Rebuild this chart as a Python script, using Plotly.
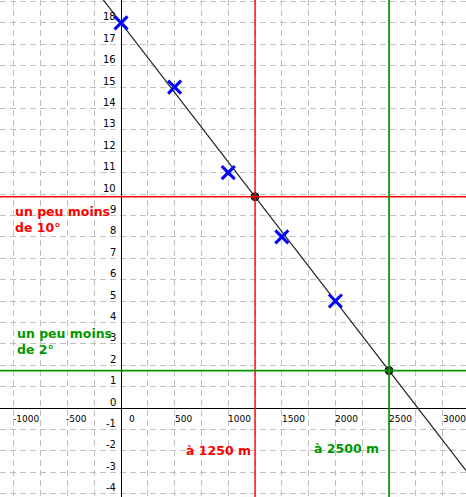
import plotly.graph_objects as go

# relevés : altitude (m) et température (°C)
altitudes = [0, 500, 1000, 1500, 2000]
temperatures = [18, 15, 11, 8, 5]

# droite d'ajustement (extrémités)
droite_x = [-200, 3300]
droite_y = [19.3, -3.45]

# points de lecture
lecture_x = [1250, 2500]
lecture_y = [9.875, 1.75]

x_ticks = [-1000, -500, 0, 500, 1000, 1500, 2000, 2500, 3000]
y_ticks = list(range(-4, 19))

ROUGE = "#ff0000"
VERT = "#009900"
FONT = "DejaVu Sans, sans-serif"

fig = go.Figure()

# lignes de lecture
fig.add_vline(x=lecture_x[0], line=dict(color=ROUGE, width=1.4))
fig.add_hline(y=lecture_y[0], line=dict(color=ROUGE, width=1.4))
fig.add_vline(x=lecture_x[1], line=dict(color=VERT, width=1.7))
fig.add_hline(y=lecture_y[1], line=dict(color=VERT, width=1.7))

fig.add_trace(go.Scatter(
    x=droite_x, y=droite_y, mode='lines',
    line=dict(color='#222222', width=1.2), hoverinfo='skip'
))
fig.add_trace(go.Scatter(
    x=altitudes, y=temperatures, mode='markers',
    marker=dict(symbol='x-thin', size=13, line=dict(color='#0000ff', width=3))
))
fig.add_trace(go.Scatter(
    x=lecture_x, y=lecture_y, mode='markers',
    marker=dict(color='#333333', size=8, line=dict(color='#111111', width=1))
))

# étiquettes des axes (placées contre les axes, façon GeoGebra)
for v in x_ticks:
    shift = 6 if v == 0 else (-3 if v < 0 else -2)
    fig.add_annotation(x=v, y=0, text=str(v), showarrow=False,
                       xanchor='left', yanchor='middle', xshift=shift, yshift=-11,
                       font=dict(family=FONT, size=9, color='black'))
for v in y_ticks:
    fig.add_annotation(x=0, y=v, text=str(v), showarrow=False,
                       xanchor='right', yanchor='middle', xshift=-3, yshift=6,
                       font=dict(family=FONT, size=10, color='black'))

# textes
fig.add_annotation(x=-1010, y=8.8, text="<b>un peu moins<br>de 10°</b>", showarrow=False,
                   xanchor='left', yanchor='middle', align='left',
                   font=dict(family=FONT, size=12.5, color=ROUGE))
fig.add_annotation(x=-990, y=3.1, text="<b>un peu moins<br>de 2°</b>", showarrow=False,
                   xanchor='left', yanchor='middle', align='left',
                   font=dict(family=FONT, size=12.5, color=VERT))
fig.add_annotation(x=lecture_x[0], y=-2.0, text="<b>à 1250 m</b>", showarrow=False,
                   xanchor='right', yanchor='middle', xshift=-2,
                   font=dict(family=FONT, size=12.5, color=ROUGE))
fig.add_annotation(x=lecture_x[1], y=-1.9, text="<b>à 2500 m</b>", showarrow=False,
                   xanchor='right', yanchor='middle', xshift=-8,
                   font=dict(family=FONT, size=12.5, color=VERT))

fig.update_layout(
    width=466, height=497, margin=dict(l=0, r=0, t=0, b=0),
    plot_bgcolor='white', paper_bgcolor='white', showlegend=False,
    xaxis=dict(range=[-1129, 3218], tick0=0, dtick=250, showticklabels=False,
               showgrid=True, gridcolor='#c0c0c0', griddash='6px,4px', gridwidth=1,
               zeroline=True, zerolinecolor='black', zerolinewidth=1.3),
    yaxis=dict(range=[-4.16, 19.07], tick0=0, dtick=1, showticklabels=False,
               showgrid=True, gridcolor='#c0c0c0', griddash='6px,4px', gridwidth=1,
               zeroline=True, zerolinecolor='black', zerolinewidth=1.3),
)

fig.write_html("out.html", config={'displayModeBar': False},
               post_script="document.body.style.margin='0';document.body.style.overflow='hidden';")
